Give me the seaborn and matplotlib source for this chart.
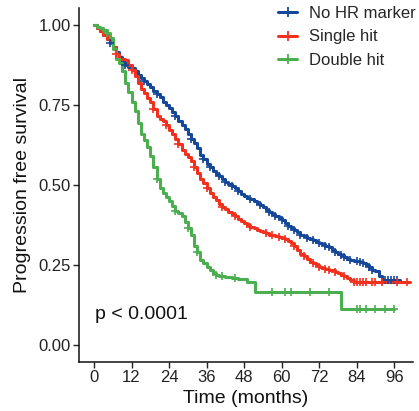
import numpy as np
import pandas as pd
import matplotlib
matplotlib.use("Agg")
import matplotlib.pyplot as plt
from matplotlib.lines import Line2D
import seaborn as sns

# ---- data ----
groups = ["No HR marker", "Single hit", "Double hit"]
colors = ["#16489A", "#F2301E", "#4BAE4F"]

no_hr_time = list(range(0, 93)) + [98]
no_hr_surv = [1.00, 0.99, 0.98, 0.97, 0.955, 0.945, 0.93, 0.915, 0.90, 0.885,
              0.875, 0.87, 0.865, 0.855, 0.845, 0.835, 0.825, 0.815, 0.805, 0.795,
              0.785, 0.775, 0.76, 0.75, 0.74, 0.728, 0.715, 0.70, 0.688, 0.675,
              0.66, 0.645, 0.63, 0.615, 0.595, 0.58, 0.565, 0.555, 0.545, 0.535,
              0.527, 0.518, 0.51, 0.503, 0.497, 0.49, 0.482, 0.473, 0.465, 0.46,
              0.455, 0.45, 0.443, 0.437, 0.43, 0.423, 0.417, 0.41, 0.403, 0.397,
              0.39, 0.382, 0.373, 0.365, 0.358, 0.352, 0.345, 0.34, 0.335, 0.33,
              0.327, 0.323, 0.32, 0.315, 0.31, 0.305, 0.298, 0.29, 0.285, 0.28,
              0.275, 0.27, 0.267, 0.264, 0.262, 0.26, 0.255, 0.25, 0.243, 0.236,
              0.23, 0.215, 0.203, 0.203]
no_hr_cens = [5, 10, 16, 20, 26, 31, 35, 37, 40, 42, 44, 46, 50, 53, 56, 58, 60, 62, 64, 66,
              68, 70, 72, 74, 75, 77, 79, 80, 82, 84, 85, 86, 88, 89, 93, 94, 95, 96, 97]

single_time = list(range(0, 84)) + [101]
single_surv = [1.00, 0.99, 0.98, 0.97, 0.955, 0.945, 0.93, 0.91, 0.895, 0.893,
               0.89, 0.875, 0.86, 0.84, 0.82, 0.80, 0.787, 0.773, 0.76, 0.738,
               0.715, 0.707, 0.70, 0.687, 0.673, 0.66, 0.643, 0.627, 0.61, 0.598,
               0.587, 0.575, 0.557, 0.538, 0.52, 0.505, 0.49, 0.475, 0.463, 0.452,
               0.44, 0.432, 0.425, 0.417, 0.41, 0.403, 0.395, 0.387, 0.38, 0.375,
               0.37, 0.365, 0.36, 0.356, 0.352, 0.349, 0.345, 0.343, 0.34, 0.338,
               0.335, 0.33, 0.325, 0.32, 0.308, 0.297, 0.285, 0.277, 0.268, 0.26,
               0.255, 0.25, 0.245, 0.242, 0.239, 0.236, 0.234, 0.229, 0.224, 0.22,
               0.215, 0.209, 0.203, 0.197, 0.197]
single_cens = [7, 12, 19, 23, 27, 32, 36, 41, 45, 50, 55, 57, 59, 61, 64, 67, 70, 72, 74, 75,
               77, 80, 83, 84, 85, 86, 87, 89, 90, 92, 97, 100]

double_time = list(range(0, 41)) + [42, 44, 46, 49, 51.5, 79, 96]
double_surv = [1.00, 0.995, 0.99, 0.985, 0.975, 0.96, 0.925, 0.895, 0.88, 0.855,
               0.82, 0.79, 0.76, 0.73, 0.695, 0.66, 0.64, 0.62, 0.59, 0.556,
               0.52, 0.49, 0.475, 0.462, 0.45, 0.435, 0.42, 0.412, 0.404, 0.385,
               0.365, 0.345, 0.31, 0.29, 0.266, 0.255, 0.245, 0.235, 0.225, 0.22,
               0.215, 0.212, 0.208, 0.205, 0.197, 0.166, 0.1125, 0.1125]
double_cens = [4, 20, 26, 30, 33, 39, 41, 45, 57, 61, 63, 69, 75, 84, 85, 87, 90, 93, 96]

x_ticks = [0, 12, 24, 36, 48, 60, 72, 84, 96]
y_ticks = [0.00, 0.25, 0.50, 0.75, 1.00]
pval_text = "p < 0.0001"

# ---- build tables ----
curves = []
cens = []
for g, t, s, c in [(groups[0], no_hr_time, no_hr_surv, no_hr_cens),
                   (groups[1], single_time, single_surv, single_cens),
                   (groups[2], double_time, double_surv, double_cens)]:
    curves.append(pd.DataFrame({"time": t, "surv": s, "group": g}))
    t_arr = np.asarray(t)
    s_arr = np.asarray(s)
    idx = np.searchsorted(t_arr, np.asarray(c), side="right") - 1
    cens.append(pd.DataFrame({"time": c, "surv": s_arr[idx], "group": g}))
curve_df = pd.concat(curves, ignore_index=True)
cens_df = pd.concat(cens, ignore_index=True)

# ---- plot ----
sns.set_theme(style="ticks")
plt.rcParams["font.family"] = ["Liberation Sans", "DejaVu Sans"]

fig = plt.figure(figsize=(4.19, 4.11), dpi=100)
ax = fig.add_axes([0.1885, 0.1192, 0.7972, 0.8613])

palette = dict(zip(groups, colors))
sns.lineplot(data=curve_df, x="time", y="surv", hue="group", hue_order=groups,
             palette=palette, drawstyle="steps-post", estimator=None, sort=False,
             linewidth=2.2, legend=False, ax=ax)
for g in groups:
    sub = cens_df[cens_df["group"] == g]
    ax.plot(sub["time"], sub["surv"], linestyle="none", marker="+", markersize=6,
            markeredgewidth=1.2, color=palette[g])

ax.set_xlim(-4.8, 102)
ax.set_ylim(-0.053, 1.053)
ax.set_xticks(x_ticks)
ax.set_yticks(y_ticks)
ax.set_yticklabels([f"{v:.2f}" for v in y_ticks])
ax.tick_params(axis="both", labelsize=12, colors="#222222", length=4, width=1,
               labelcolor="#222222", pad=2)
for side in ["top", "right"]:
    ax.spines[side].set_visible(False)
for side in ["left", "bottom"]:
    ax.spines[side].set_linewidth(1.1)
    ax.spines[side].set_color("#111111")
ax.set_xlabel("Time (months)", fontsize=14, color="#111111", labelpad=3)
ax.set_ylabel("Progression free survival", fontsize=14, color="#111111", labelpad=5)

ax.text(0.3, 0.094, pval_text, fontsize=14, ha="left", va="center", color="#111111")

handles = [Line2D([0], [0], color=palette[g], lw=2.2, marker="+", markersize=7,
                  markeredgewidth=1.3) for g in groups]
fig.legend(handles, groups, loc="upper left", bbox_to_anchor=(0.664, 0.985),
           frameon=False, fontsize=12, handlelength=1.15, handletextpad=0.7,
           borderpad=0, borderaxespad=0, labelspacing=0.5)

fig.savefig("out.png", dpi=100)
